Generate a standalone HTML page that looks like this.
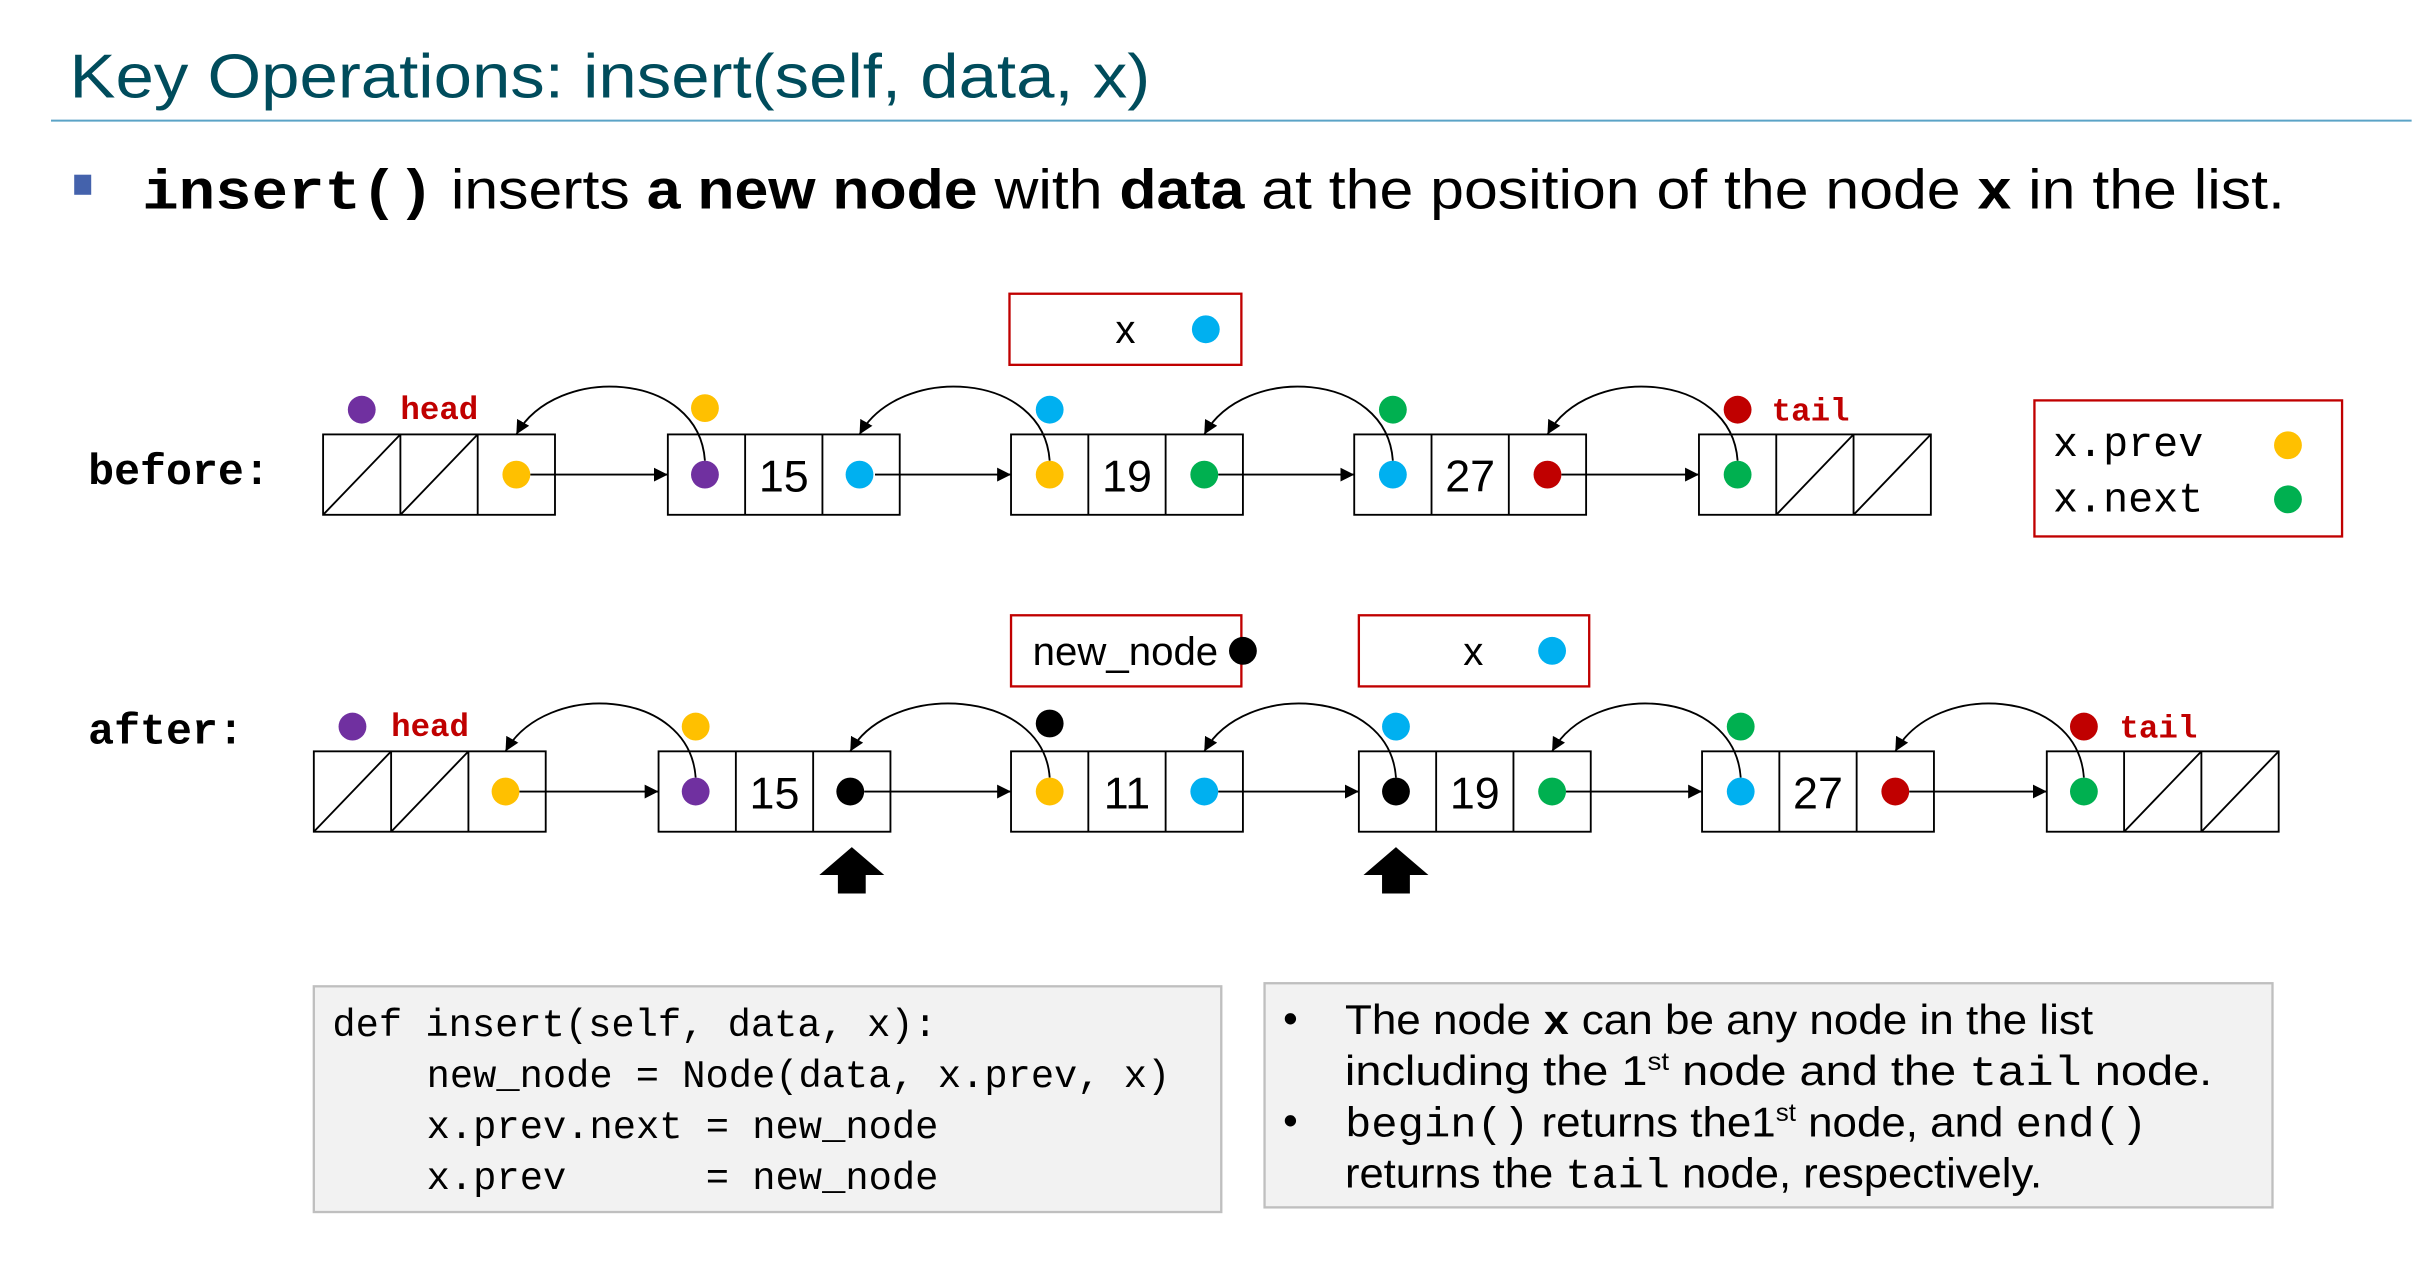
<!DOCTYPE html>
<html><head><meta charset="utf-8"><style>
html,body{margin:0;padding:0;background:#fff;}
svg{display:block;}
text{font-family:"Liberation Sans",sans-serif;}
.m{font-family:"Liberation Mono",monospace;}
</style></head><body>
<svg width="2424" height="1270" viewBox="0 0 1568 821.5" preserveAspectRatio="none" xmlns="http://www.w3.org/2000/svg">
<defs>
<marker id="a" viewBox="0 0 10 10" refX="10" refY="5" markerWidth="9" markerHeight="9" markerUnits="userSpaceOnUse" orient="auto"><path d="M0,0L10,5L0,10z" fill="#000"/></marker>
<marker id="b" viewBox="0 0 10 10" refX="10" refY="5" markerWidth="11" markerHeight="11" markerUnits="userSpaceOnUse" orient="auto"><path d="M0,0L10,5L0,10z" fill="#000"/></marker>
</defs>
<text x="45" y="63" font-size="40" fill="#004c5c" textLength="699" lengthAdjust="spacingAndGlyphs">Key Operations: insert(self, data, x)</text>
<line x1="33" y1="78" x2="1560" y2="78" stroke="#5ba3c6" stroke-width="1.3"/>
<rect x="48" y="113" width="11" height="13" fill="#4462ac"/>
<text y="135" font-size="36" fill="#000" textLength="1386" lengthAdjust="spacingAndGlyphs" x="92"><tspan class="m" font-weight="bold">insert()</tspan> inserts <tspan font-weight="bold">a new node</tspan> with <tspan font-weight="bold">data</tspan> at the position of the node <tspan font-weight="bold">x</tspan> in the list.</text>

<g stroke="#000" stroke-width="1.2" fill="#fff">
<!-- before nodes -->
<rect x="209" y="281" width="150" height="52"/><line x1="259" y1="281" x2="259" y2="333"/><line x1="309" y1="281" x2="309" y2="333"/><line x1="209" y1="333" x2="259" y2="281"/><line x1="259" y1="333" x2="309" y2="281"/>
<rect x="432" y="281" width="150" height="52"/><line x1="482" y1="281" x2="482" y2="333"/><line x1="532" y1="281" x2="532" y2="333"/>
<rect x="654" y="281" width="150" height="52"/><line x1="704" y1="281" x2="704" y2="333"/><line x1="754" y1="281" x2="754" y2="333"/>
<rect x="876" y="281" width="150" height="52"/><line x1="926" y1="281" x2="926" y2="333"/><line x1="976" y1="281" x2="976" y2="333"/>
<rect x="1099" y="281" width="150" height="52"/><line x1="1149" y1="281" x2="1149" y2="333"/><line x1="1199" y1="281" x2="1199" y2="333"/><line x1="1149" y1="333" x2="1199" y2="281"/><line x1="1199" y1="333" x2="1249" y2="281"/>
<!-- after nodes -->
<rect x="203" y="486" width="150" height="52"/><line x1="253" y1="486" x2="253" y2="538"/><line x1="303" y1="486" x2="303" y2="538"/><line x1="203" y1="538" x2="253" y2="486"/><line x1="253" y1="538" x2="303" y2="486"/>
<rect x="426" y="486" width="150" height="52"/><line x1="476" y1="486" x2="476" y2="538"/><line x1="526" y1="486" x2="526" y2="538"/>
<rect x="654" y="486" width="150" height="52"/><line x1="704" y1="486" x2="704" y2="538"/><line x1="754" y1="486" x2="754" y2="538"/>
<rect x="879" y="486" width="150" height="52"/><line x1="929" y1="486" x2="929" y2="538"/><line x1="979" y1="486" x2="979" y2="538"/>
<rect x="1101" y="486" width="150" height="52"/><line x1="1151" y1="486" x2="1151" y2="538"/><line x1="1201" y1="486" x2="1201" y2="538"/>
<rect x="1324" y="486" width="150" height="52"/><line x1="1374" y1="486" x2="1374" y2="538"/><line x1="1424" y1="486" x2="1424" y2="538"/><line x1="1374" y1="538" x2="1424" y2="486"/><line x1="1424" y1="538" x2="1474" y2="486"/>
</g>

<g stroke="#000" stroke-width="1.2" fill="none">
<!-- forward arrows -->
<line x1="343" y1="307" x2="432" y2="307" marker-end="url(#a)"/>
<line x1="566" y1="307" x2="654" y2="307" marker-end="url(#a)"/>
<line x1="788" y1="307" x2="876" y2="307" marker-end="url(#a)"/>
<line x1="1010" y1="307" x2="1099" y2="307" marker-end="url(#a)"/>
<line x1="336" y1="512" x2="426" y2="512" marker-end="url(#a)"/>
<line x1="559" y1="512" x2="654" y2="512" marker-end="url(#a)"/>
<line x1="788" y1="512" x2="879" y2="512" marker-end="url(#a)"/>
<line x1="1013" y1="512" x2="1101" y2="512" marker-end="url(#a)"/>
<line x1="1235" y1="512" x2="1324" y2="512" marker-end="url(#a)"/>
<!-- prev arcs -->
<path d="M456,298 C452,240 360,235 334,281" marker-end="url(#a)"/>
<path d="M679,298 C675,240 582,235 556,281" marker-end="url(#a)"/>
<path d="M901,298 C897,240 805,235 779,281" marker-end="url(#a)"/>
<path d="M1124,298 C1120,240 1027,235 1001,281" marker-end="url(#a)"/>
<path d="M450,503 C446,445 353,440 327,486" marker-end="url(#a)"/>
<path d="M679,503 C675,445 576,440 550,486" marker-end="url(#a)"/>
<path d="M903,503 C899,445 805,440 779,486" marker-end="url(#a)"/>
<path d="M1126,503 C1122,445 1030,440 1004,486" marker-end="url(#a)"/>
<path d="M1348,503 C1344,445 1252,440 1226,486" marker-end="url(#a)"/>
</g>

<g>
<!-- before dots -->
<circle cx="334" cy="307" r="9" fill="#ffc000"/>
<circle cx="456" cy="307" r="9" fill="#7030a0"/>
<circle cx="556" cy="307" r="9" fill="#00b0f0"/>
<circle cx="679" cy="307" r="9" fill="#ffc000"/>
<circle cx="779" cy="307" r="9" fill="#00b050"/>
<circle cx="901" cy="307" r="9" fill="#00b0f0"/>
<circle cx="1001" cy="307" r="9" fill="#c00000"/>
<circle cx="1124" cy="307" r="9" fill="#00b050"/>
<circle cx="234" cy="265" r="9" fill="#7030a0"/>
<circle cx="456" cy="264" r="9" fill="#ffc000"/>
<circle cx="679" cy="265" r="9" fill="#00b0f0"/>
<circle cx="901" cy="265" r="9" fill="#00b050"/>
<circle cx="1124" cy="265" r="9" fill="#c00000"/>
<!-- after dots -->
<circle cx="327" cy="512" r="9" fill="#ffc000"/>
<circle cx="450" cy="512" r="9" fill="#7030a0"/>
<circle cx="550" cy="512" r="9" fill="#000"/>
<circle cx="679" cy="512" r="9" fill="#ffc000"/>
<circle cx="779" cy="512" r="9" fill="#00b0f0"/>
<circle cx="903" cy="512" r="9" fill="#000"/>
<circle cx="1004" cy="512" r="9" fill="#00b050"/>
<circle cx="1126" cy="512" r="9" fill="#00b0f0"/>
<circle cx="1226" cy="512" r="9" fill="#c00000"/>
<circle cx="1348" cy="512" r="9" fill="#00b050"/>
<circle cx="228" cy="470" r="9" fill="#7030a0"/>
<circle cx="450" cy="470" r="9" fill="#ffc000"/>
<circle cx="679" cy="468" r="9" fill="#000"/>
<circle cx="903" cy="470" r="9" fill="#00b0f0"/>
<circle cx="1126" cy="470" r="9" fill="#00b050"/>
<circle cx="1348" cy="470" r="9" fill="#c00000"/>
</g>

<g font-size="29" fill="#000" text-anchor="middle">
<text x="507" y="318">15</text><text x="729" y="318">19</text><text x="951" y="318">27</text>
<text x="501" y="523">15</text><text x="729" y="523">11</text><text x="954" y="523">19</text><text x="1176" y="523">27</text>
</g>
<g class="m" font-size="21" font-weight="bold" fill="#c00000">
<text x="259" y="271" class="m">head</text><text x="1146" y="272" class="m">tail</text>
<text x="253" y="476" class="m">head</text><text x="1371" y="477" class="m">tail</text>
</g>
<text x="57" y="313" class="m" font-size="28" font-weight="bold">before:</text>
<text x="57" y="481" class="m" font-size="28" font-weight="bold">after:</text>

<!-- x box before -->
<rect x="653" y="190" width="150" height="46" fill="#fff" stroke="#c00000" stroke-width="1.5"/>
<text x="728" y="222" font-size="26" text-anchor="middle">x</text>
<circle cx="780" cy="213" r="9" fill="#00b0f0"/>
<!-- legend -->
<rect x="1316" y="259" width="199" height="88" fill="#fff" stroke="#c00000" stroke-width="1.5"/>
<text x="1328" y="295" class="m" font-size="27">x.prev</text>
<text x="1328" y="331" class="m" font-size="27">x.next</text>
<circle cx="1480" cy="288" r="9" fill="#ffc000"/>
<circle cx="1480" cy="323" r="9" fill="#00b050"/>
<!-- after boxes -->
<rect x="654" y="398" width="149" height="46" fill="#fff" stroke="#c00000" stroke-width="1.5"/>
<text x="668" y="430" font-size="26" textLength="120" lengthAdjust="spacingAndGlyphs">new_node</text>
<circle cx="804" cy="421" r="9" fill="#000"/>
<rect x="879" y="398" width="149" height="46" fill="#fff" stroke="#c00000" stroke-width="1.5"/>
<text x="953" y="430" font-size="26" text-anchor="middle">x</text>
<circle cx="1004" cy="421" r="9" fill="#00b0f0"/>
<!-- up arrows -->
<path d="M551,548 L572,566 L560,566 L560,578 L542,578 L542,566 L530,566 Z" fill="#000"/>
<path d="M903,548 L924,566 L912,566 L912,578 L894,578 L894,566 L882,566 Z" fill="#000"/>

<!-- code box -->
<rect x="203" y="638" width="587" height="146" fill="#f2f2f2" stroke="#bfbfbf" stroke-width="1.5"/>
<g class="m" font-size="25" fill="#000">
<text x="215" y="670" textLength="391" lengthAdjust="spacingAndGlyphs" class="m">def insert(self, data, x):</text>
<text x="276" y="703" textLength="481" lengthAdjust="spacingAndGlyphs" class="m">new_node = Node(data, x.prev, x)</text>
<text x="276" y="736" textLength="331" lengthAdjust="spacingAndGlyphs" class="m">x.prev.next = new_node</text>
<text x="276" y="769" textLength="331" lengthAdjust="spacingAndGlyphs" class="m" xml:space="preserve">x.prev      = new_node</text>
</g>
<!-- notes box -->
<rect x="818" y="636" width="652" height="145" fill="#f2f2f2" stroke="#bfbfbf" stroke-width="1.5"/>
<g font-size="27" fill="#000">
<text x="830" y="668">•</text>
<text x="870" y="669" textLength="484" lengthAdjust="spacingAndGlyphs">The node <tspan class="m" font-weight="bold">x</tspan> can be any node in the list</text>
<text x="870" y="702" textLength="561" lengthAdjust="spacingAndGlyphs">including the 1<tspan font-size="16" dy="-10">st</tspan><tspan dy="10">  node and the </tspan><tspan class="m">tail</tspan> node.</text>
<text x="830" y="734">•</text>
<text x="870" y="735" textLength="519" lengthAdjust="spacingAndGlyphs"><tspan class="m">begin()</tspan>  returns  the1<tspan font-size="16" dy="-10">st</tspan><tspan dy="10"> node, and </tspan><tspan class="m">end()</tspan></text>
<text x="870" y="768" textLength="451" lengthAdjust="spacingAndGlyphs">returns the <tspan class="m">tail</tspan> node, respectively.</text>
</g>
</svg>
</body></html>
